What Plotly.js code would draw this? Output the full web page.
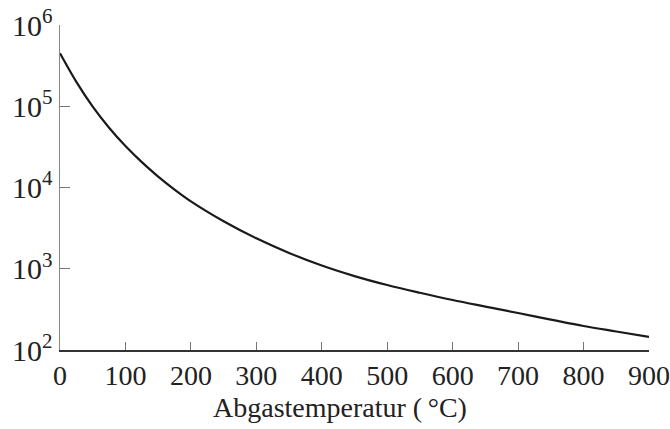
<!DOCTYPE html>
<html>
<head>
<meta charset="utf-8">
<script src="https://cdn.plot.ly/plotly-3.0.1.min.js"></script>
<style>html,body{margin:0;padding:0;background:#fff;}#chart{width:670px;height:429px;}</style>
</head>
<body>
<div id="chart"></div>
<script>
// Abgastemperatur (°C)
const temperature = [0, 25, 50, 75, 100, 125, 150, 175, 200, 250, 300, 350, 400, 450, 500, 550, 600, 650, 700, 750, 800, 850, 900];
// values (log scale)
const values = [448700, 199300, 98700, 54270, 32320, 20510, 13630, 9430, 6752, 3842, 2368, 1565, 1095, 812, 630, 506, 412, 342, 285, 237, 197.6, 168.9, 144.7];
const yTickVals = [100, 1000, 10000, 100000, 1000000];
const yTickText = ['10<sup>2</sup>', '10<sup>3</sup>', '10<sup>4</sup>', '10<sup>5</sup>', '10<sup>6</sup>'];
const xTickVals = [0, 100, 200, 300, 400, 500, 600, 700, 800, 900];
const xTitle = 'Abgastemperatur (\u2009°C)';

const family = '"Liberation Serif", "DejaVu Serif", serif';
const xfont = {family: family, size: 28, color: '#222'};
const yfont = {family: family, size: 30, color: '#222'};
const tfont = {family: family, size: 28, color: '#222'};

Plotly.newPlot('chart', [{
  x: temperature,
  y: values,
  type: 'scatter',
  mode: 'lines',
  line: {color: '#1a1a1a', width: 2.2, shape: 'spline', smoothing: 1},
  hoverinfo: 'skip'
}], {
  width: 670, height: 429,
  margin: {l: 60, r: 21, t: 25, b: 79},
  paper_bgcolor: '#fff', plot_bgcolor: '#fff',
  showlegend: false,
  font: xfont,
  xaxis: {
    range: [0, 900], tickvals: xTickVals, ticks: 'inside', ticklen: 8, tickwidth: 1.2, tickcolor: '#777',
    showline: true, linecolor: '#333', linewidth: 1.5, showgrid: false, zeroline: false,
    tickfont: xfont
  },
  yaxis: {
    type: 'log', range: [2, 6], tickvals: yTickVals, ticktext: yTickText,
    ticks: 'inside', ticklen: 10, tickwidth: 1.2, tickcolor: '#777',
    showline: true, linecolor: '#888', linewidth: 1.5, showgrid: false, zeroline: false,
    tickfont: yfont
  },
  annotations: [{
    text: xTitle, font: tfont, showarrow: false,
    xref: 'paper', yref: 'paper', x: 0.476, y: -0.178, xanchor: 'center', yanchor: 'middle'
  }]
}, {displayModeBar: false, staticPlot: true});
</script>
</body>
</html>
